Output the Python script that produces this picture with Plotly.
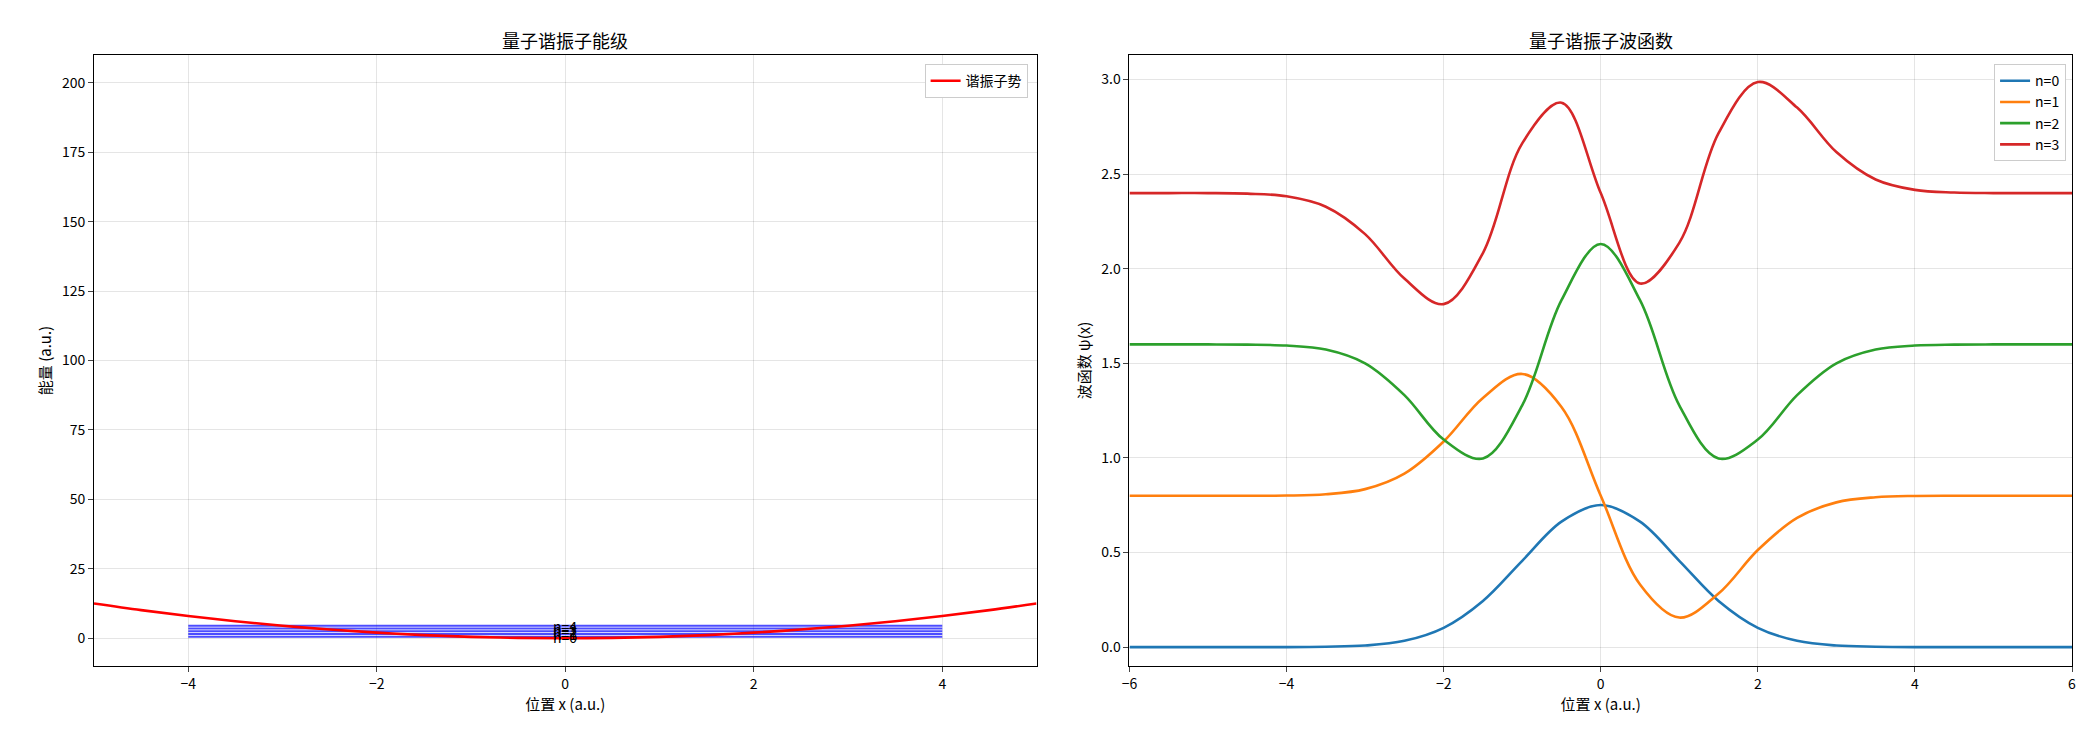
import plotly.graph_objects as go
from plotly.subplots import make_subplots

# Left panel data
pot_x = [-5, -4.5, -4, -3.5, -3, -2.5, -2, -1.5, -1, -0.5, 0, 0.5, 1, 1.5, 2, 2.5, 3, 3.5, 4, 4.5, 5]
pot_y = [12.5, 10.125, 8, 6.125, 4.5, 3.125, 2, 1.125, 0.5, 0.125, 0, 0.125, 0.5, 1.125, 2, 3.125, 4.5, 6.125, 8, 10.125, 12.5]
levels = [0.5, 1.5, 2.5, 3.5, 4.5]
level_x = [-4, 4]

# Right panel data
wx = [-6, -5.5, -5, -4.5, -4, -3.5, -3, -2.5, -2, -1.5, -1, -0.5, 0, 0.5, 1, 1.5, 2, 2.5, 3, 3.5, 4, 4.5, 5, 5.5, 6]
psi0 = [0, 0, 0, 0, 0, 0.002, 0.008, 0.033, 0.102, 0.244, 0.456, 0.663, 0.751, 0.663, 0.456, 0.244, 0.102, 0.033, 0.008, 0.002, 0, 0, 0, 0, 0]
psi1 = [0.8, 0.8, 0.8, 0.8, 0.801, 0.808, 0.835, 0.917, 1.087, 1.317, 1.444, 1.269, 0.8, 0.331, 0.156, 0.283, 0.513, 0.683, 0.765, 0.792, 0.799, 0.8, 0.8, 0.8, 0.8]
psi2 = [1.6, 1.6, 1.6, 1.599, 1.594, 1.573, 1.5, 1.332, 1.097, 0.997, 1.278, 1.834, 2.131, 1.834, 1.278, 0.997, 1.097, 1.332, 1.5, 1.573, 1.594, 1.599, 1.6, 1.6, 1.6]
psi3 = [2.4, 2.4, 2.4, 2.397, 2.383, 2.328, 2.183, 1.948, 1.813, 2.083, 2.663, 2.878, 2.4, 1.922, 2.137, 2.717, 2.987, 2.852, 2.617, 2.472, 2.417, 2.403, 2.4, 2.4, 2.4]
wave_names = ["n=0", "n=1", "n=2", "n=3"]
wave_colors = ["#1f77b4", "#ff7f0e", "#2ca02c", "#d62728"]

FONT = "Noto Sans CJK SC, SimHei, sans-serif"
fig = make_subplots(rows=1, cols=2, horizontal_spacing=0.047,
                    subplot_titles=("量子谐振子能级", "量子谐振子波函数"))

for i, E in enumerate(levels):
    fig.add_trace(go.Scatter(x=level_x, y=[E, E], mode="lines",
                             line=dict(color="rgba(0,0,255,0.7)", width=2),
                             showlegend=False, hoverinfo="skip"), row=1, col=1)
    fig.add_annotation(x=0, y=E, text=f"n={i}", showarrow=False, xref="x", yref="y",
                       font=dict(size=14, color="black", family=FONT))
fig.add_trace(go.Scatter(x=pot_x, y=pot_y, mode="lines", line=dict(color="red", width=2.6, shape="spline"),
                         name="谐振子势", legend="legend"), row=1, col=1)

for ys, nm, c in zip([psi0, psi1, psi2, psi3], wave_names, wave_colors):
    fig.add_trace(go.Scatter(x=wx, y=ys, mode="lines", name=nm,
                             line=dict(color=c, width=2.6, shape="spline"),
                             legend="legend2"), row=1, col=2)

ax = dict(showline=True, linecolor="black", mirror=True, ticks="outside", ticklen=5,
          gridcolor="rgba(0,0,0,0.1)", zeroline=False, tickfont=dict(size=14, color="black"))
fig.update_xaxes(**ax)
fig.update_yaxes(**ax)
fig.update_xaxes(range=[-5, 5], dtick=2, title_text="位置 x (a.u.)", row=1, col=1)
fig.update_yaxes(range=[-10, 210], dtick=25, title_text="能量 (a.u.)", row=1, col=1)
fig.update_xaxes(range=[-6, 6], dtick=2, title_text="位置 x (a.u.)", row=1, col=2)
fig.update_yaxes(range=[-0.1, 3.13], dtick=0.5, tickformat=".1f", title_text="波函数 ψ(x)", row=1, col=2)
fig.update_xaxes(title_font=dict(size=15), title_standoff=6)
fig.update_yaxes(title_font=dict(size=15), title_standoff=6)
fig.update_annotations(selector=dict(text="量子谐振子能级"), font=dict(size=18))
fig.update_annotations(selector=dict(text="量子谐振子波函数"), font=dict(size=18))

leg = dict(bgcolor="white", bordercolor="#cccccc", borderwidth=1, font=dict(size=14),
           xanchor="right", yanchor="top")
fig.update_layout(
    width=2084, height=733, plot_bgcolor="white", paper_bgcolor="white",
    font=dict(family=FONT, color="black"),
    margin=dict(l=86, r=20, t=47, b=75),
    legend=dict(x=0.472, y=0.985, **leg),
    legend2=dict(x=0.997, y=0.985, **leg),
)
fig.write_html("out.html")
